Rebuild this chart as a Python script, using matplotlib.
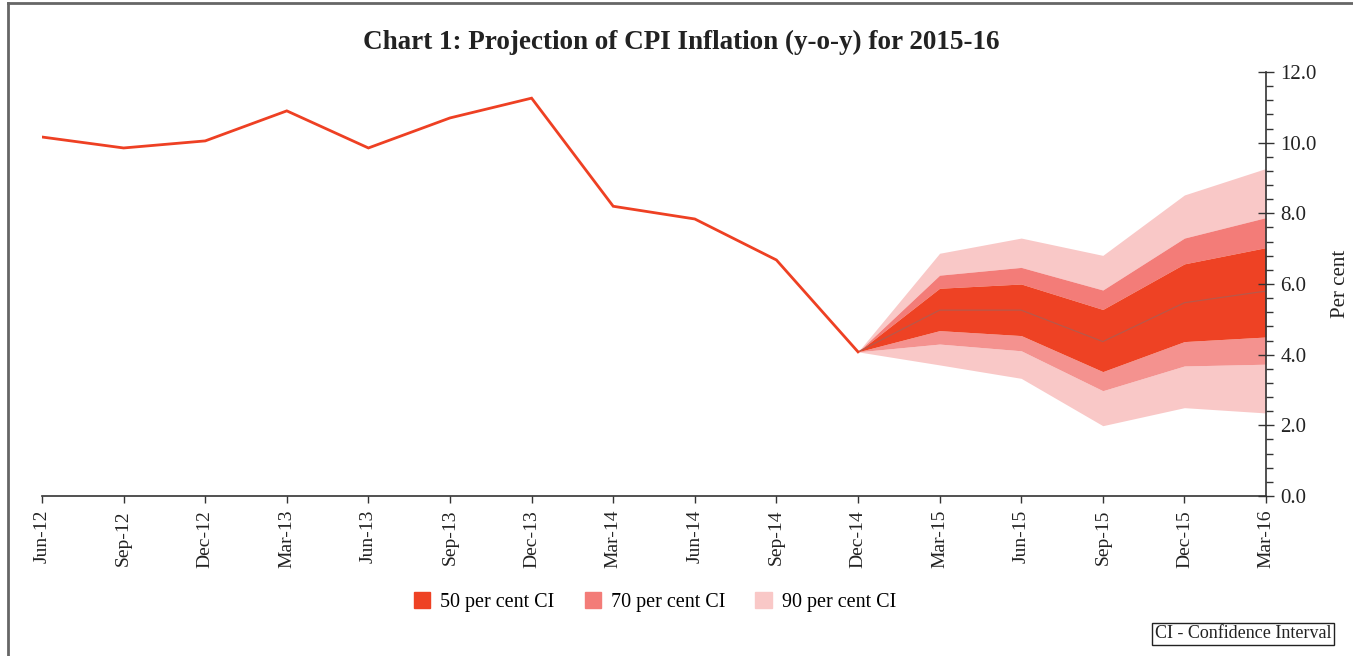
import matplotlib
matplotlib.use("Agg")
import matplotlib.pyplot as plt
from matplotlib.patches import Patch
from matplotlib.lines import Line2D
from matplotlib.ticker import MultipleLocator, FormatStrFormatter

plt.rcParams['font.family'] = ['Liberation Serif', 'DejaVu Serif']

quarters = ["Jun-12", "Sep-12", "Dec-12", "Mar-13", "Jun-13", "Sep-13", "Dec-13",
            "Mar-14", "Jun-14", "Sep-14", "Dec-14", "Mar-15", "Jun-15", "Sep-15",
            "Dec-15", "Mar-16"]
actual = [10.16, 9.85, 10.05, 10.9, 9.85, 10.7, 11.26, 8.2, 7.84, 6.68, 4.08]

proj_quarters = ["Dec-14", "Mar-15", "Jun-15", "Sep-15", "Dec-15", "Mar-16"]
median = [4.08, 5.26, 5.26, 4.37, 5.47, 5.80]
upper50 = [4.08, 5.88, 6.00, 5.28, 6.57, 7.03]
lower50 = [4.08, 4.68, 4.54, 3.52, 4.37, 4.50]
upper70 = [4.08, 6.25, 6.47, 5.83, 7.30, 7.88]
lower70 = [4.08, 4.30, 4.11, 2.98, 3.68, 3.73]
upper90 = [4.08, 6.87, 7.30, 6.81, 8.52, 9.27]
lower90 = [4.08, 3.71, 3.33, 1.99, 2.50, 2.35]

legend_labels = ["50 per cent CI", "70 per cent CI", "90 per cent CI"]

c50 = '#ee4224'
c70 = '#f37c78'
c70l = '#f4928f'
c90 = '#f9c8c7'
red = '#ee4023'

fig = plt.figure(figsize=(13.53, 6.56), dpi=100)
ax = fig.add_axes([42/1353, 1-496/656, (1266-42)/1353, (496-72)/656])

x_act = list(range(len(actual)))
start = quarters.index(proj_quarters[0])
x_proj = list(range(start, start + len(proj_quarters)))

ax.fill_between(x_proj, upper70, upper90, color=c90, lw=0)
ax.fill_between(x_proj, lower90, lower70, color=c90, lw=0)
ax.fill_between(x_proj, upper50, upper70, color=c70, lw=0)
ax.fill_between(x_proj, lower70, lower50, color=c70l, lw=0)
ax.fill_between(x_proj, lower50, upper50, color=c50, lw=0)
ax.plot(x_proj, median, color='#b8584a', lw=0.9)
ax.plot(x_act, actual, color=red, lw=2.0, solid_joinstyle='miter')

ax.set_xlim(0, len(quarters) - 1)
ax.set_ylim(0, 12)
ax.set_xticks(range(len(quarters)))
ax.set_xticklabels(quarters, rotation=90, fontsize=14, color='#222222')
ax.tick_params(axis='x', direction='out', length=5, width=1, color='#333333', pad=5)

ax.yaxis.tick_right()
ax.yaxis.set_label_position('right')
ax.yaxis.set_major_locator(MultipleLocator(2))
ax.yaxis.set_minor_locator(MultipleLocator(0.4))
ax.yaxis.set_major_formatter(FormatStrFormatter('%.1f'))
ax.tick_params(axis='y', which='major', direction='inout', length=11, width=1,
               color='#333333', labelsize=15, labelcolor='#222222', pad=5)
ax.tick_params(axis='y', which='minor', direction='out', length=5, width=1, color='#333333')
ax.set_ylabel('Per cent', fontsize=15, color='#222222', labelpad=10)

for s in ['left', 'top']:
    ax.spines[s].set_visible(False)
for s in ['right', 'bottom']:
    ax.spines[s].set_color('#333333')
    ax.spines[s].set_linewidth(1.2)

fig.text(0.5035, 1-42/656, "Chart 1: Projection of CPI Inflation (y-o-y) for 2015-16",
         ha='center', va='center', fontsize=19.5, fontweight='bold', color='#222222')

handles = [Patch(color=c50), Patch(color=c70), Patch(color=c90)]
fig.legend(handles, legend_labels, loc='center', bbox_to_anchor=(655/1353, 1-602/656),
           ncol=3, frameon=False, fontsize=14.5, handlelength=0.8, handleheight=0.8,
           handletextpad=0.5, columnspacing=1.5)

fig.text(1243/1353, 1-634/656, "CI - Confidence Interval", ha='center', va='center',
         fontsize=13, color='#222222',
         bbox=dict(boxstyle='square,pad=0.15', fc='white', ec='#222222', lw=1))

fig.add_artist(Line2D([8/1353, 8/1353], [0, 1-3/656], transform=fig.transFigure,
                      color='#666666', lw=2))
fig.add_artist(Line2D([8/1353, 1], [1-3/656, 1-3/656], transform=fig.transFigure,
                      color='#666666', lw=2))

fig.savefig('out.png', dpi=100)
